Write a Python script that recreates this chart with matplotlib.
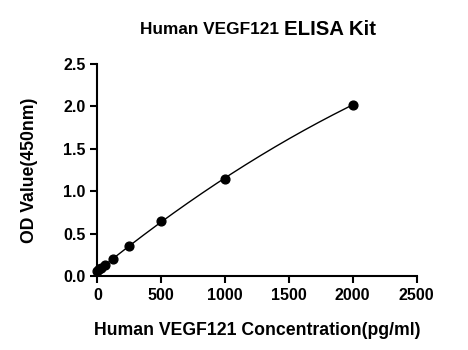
import matplotlib.pyplot as plt
import numpy as np

plt.rcParams['font.family'] = ['Liberation Sans', 'DejaVu Sans']
plt.rcParams['font.weight'] = 'bold'

# standard curve points
conc = [0, 15.6, 31.25, 62.5, 125, 250, 500, 1000, 2000]
od = [0.06, 0.08, 0.10, 0.13, 0.20, 0.36, 0.65, 1.15, 2.02]

xticks = [0, 500, 1000, 1500, 2000, 2500]
yticks = [0.0, 0.5, 1.0, 1.5, 2.0, 2.5]

fig = plt.figure(figsize=(4.68, 3.5), dpi=100)
ax = fig.add_axes([0.208, 0.211, 0.682, 0.606])

# fitted curve
coef = np.polyfit(conc, od, 2)
xs = np.linspace(0, max(conc), 300)
ax.plot(xs, np.polyval(coef, xs), color='black', lw=1)
ax.scatter(conc, od, s=40, color='black', zorder=3, clip_on=False)

ax.set_xlim(0, 2500)
ax.set_ylim(0, 2.5)
ax.set_xticks(xticks)
ax.set_yticks(yticks)
ax.set_yticklabels(['%.1f' % v for v in yticks])
ax.spines['top'].set_visible(False)
ax.spines['right'].set_visible(False)
for s in ['left', 'bottom']:
    ax.spines[s].set_linewidth(1.5)
ax.tick_params(width=1.5, length=5, labelsize=11.5, direction='out')
for lab in ax.get_xticklabels() + ax.get_yticklabels():
    lab.set_fontweight('bold')

ax.set_xlabel('Human VEGF121 Concentration(pg/ml)', fontsize=12.7, fontweight='bold', labelpad=14)
ax.set_ylabel('OD Value(450nm)', fontsize=12.7, fontweight='bold', labelpad=18)

fig.text(0.596, 0.915, 'Human VEGF121', fontsize=12.4, fontweight='bold', ha='right', va='center')
fig.text(0.606, 0.915, 'ELISA Kit', fontsize=14.7, fontweight='bold', ha='left', va='center')

fig.savefig('out.png', dpi=100)
